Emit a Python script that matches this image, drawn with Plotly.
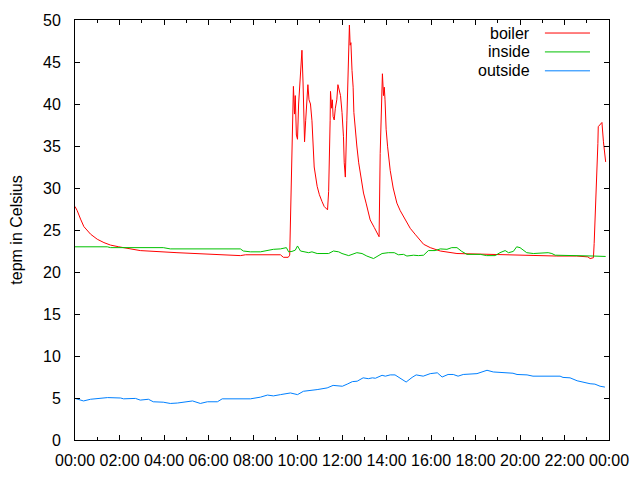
import plotly.graph_objects as go

DAY = "2013-01-01 "

boiler_time = ["00:00","00:06","00:15","00:24","00:42","01:00","01:18","01:36","01:58","02:30","02:56","04:35","06:13","07:26","07:40","09:14","09:22","09:35","09:39","09:42","09:45","09:49","09:52","09:54","09:57","10:00","10:03","10:08","10:12","10:15","10:17","10:19","10:22","10:26","10:28","10:31","10:35","10:39","10:42","10:45","10:53","10:59","11:06","11:12","11:21","11:24","11:28","11:29","11:32","11:34","11:36","11:39","11:42","11:46","11:49","11:52","11:56","12:00","12:04","12:06","12:09","12:13","12:16","12:18","12:20","12:22","12:24","12:27","12:30","12:32","12:36","12:40","12:45","12:52","12:58","13:05","13:16","13:27","13:40","13:43","13:46","13:49","13:52","13:54","13:56","13:59","14:03","14:10","14:18","14:28","14:37","14:46","15:04","15:17","15:31","15:40","15:58","16:25","17:10","18:30","19:41","21:39","22:33","23:03","23:09","23:18","23:20","23:24","23:27","23:30","23:31","23:36","23:41","23:45","23:47","23:51"]
boiler_temp = [27.8,27.3,26.3,25.4,24.5,23.9,23.5,23.2,23.0,22.75,22.55,22.3,22.1,21.95,22.05,22.05,21.75,21.75,22.0,29.4,34.4,42.1,38.8,41.0,36.3,35.8,40.0,44.5,46.4,42.5,37.0,35.5,38.0,40.5,42.3,40.5,40.0,38.0,35.0,32.5,30.2,29.2,28.4,27.8,27.4,29.6,38.0,41.5,39.5,40.5,38.5,38.1,39.5,40.5,42.3,41.8,41.0,39.0,36.1,33.0,31.3,38.0,44.0,46.8,49.4,47.0,47.3,44.0,42.0,39.0,36.5,35.0,33.0,31.0,29.4,28.2,26.2,25.3,24.2,34.1,40.5,43.6,41.0,42.0,40.5,37.0,34.9,32.1,30.0,28.2,27.3,26.6,25.2,24.5,23.8,23.3,22.9,22.5,22.2,22.1,22.0,21.9,21.9,21.8,21.6,21.7,23.4,27.4,31.3,35.3,37.3,37.6,37.8,35.5,34.3,33.1]

inside_time = ["00:00","01:27","01:36","03:58","04:17","07:26","07:34","07:53","08:20","08:39","08:55","09:14","09:30","09:36","09:45","09:54","10:00","10:08","10:21","10:30","10:39","10:53","11:24","11:37","11:51","12:00","12:18","12:40","12:54","13:07","13:25","13:34","13:48","14:05","14:21","14:32","14:46","14:55","15:13","15:26","15:40","15:53","16:11","16:25","16:43","16:56","17:10","17:23","17:37","18:13","18:30","18:53","19:06","19:20","19:29","19:42","19:51","20:00","20:18","20:36","21:16","21:26","21:35","23:18","23:51"]
inside_temp = [23.0,23.0,22.9,22.9,22.75,22.75,22.5,22.4,22.4,22.55,22.7,22.75,22.9,22.4,22.45,22.6,23.1,22.5,22.4,22.3,22.4,22.2,22.2,22.5,22.4,22.2,21.95,22.3,22.2,21.9,21.6,21.8,22.2,22.3,22.3,22.05,22.1,21.9,22.0,21.95,22.0,22.55,22.55,22.75,22.7,22.9,22.9,22.45,22.1,22.1,21.95,21.95,22.3,22.55,22.3,22.45,23.0,22.9,22.3,22.2,22.3,22.2,22.0,21.9,21.85]

outside_time = ["00:00","00:23","00:42","01:01","01:28","02:03","02:11","02:43","02:56","03:18","03:31","03:58","04:17","04:36","05:17","05:38","05:57","06:24","06:37","07:53","08:20","08:39","08:55","09:14","09:41","10:00","10:16","10:53","11:20","11:36","12:01","12:14","12:28","12:41","12:57","13:11","13:22","13:30","13:48","13:57","14:10","14:23","14:37","14:53","15:09","15:20","15:39","15:58","16:17","16:30","16:46","17:00","17:13","17:27","18:04","18:18","18:31","18:48","19:14","19:41","19:52","20:19","20:35","21:40","21:48","21:56","22:15","22:34","22:50","23:09","23:22","23:36","23:49"]
outside_temp = [4.95,4.65,4.85,4.95,5.05,5.0,4.9,4.95,4.75,4.85,4.55,4.5,4.35,4.4,4.65,4.35,4.55,4.55,4.9,4.9,5.1,5.35,5.25,5.4,5.6,5.4,5.8,6.0,6.2,6.5,6.4,6.65,6.95,7.0,7.4,7.3,7.4,7.35,7.7,7.6,7.75,7.75,7.4,6.9,7.45,7.75,7.6,7.9,8.0,7.5,7.8,7.8,7.6,7.8,7.9,8.1,8.3,8.1,8.0,7.95,7.8,7.75,7.6,7.55,7.6,7.45,7.4,7.05,6.85,6.7,6.65,6.4,6.3]

series_names = ["boiler", "inside", "outside"]
series_colors = ["#ff0000", "#00c000", "#0080ff"]
y_ticks = list(range(0, 51, 5))

FONT = "Liberation Sans"
FS = 16

fig = go.Figure()
for name, times, temps, color in zip(series_names,
                                     [boiler_time, inside_time, outside_time],
                                     [boiler_temp, inside_temp, outside_temp],
                                     series_colors):
    fig.add_trace(go.Scatter(x=[DAY + t for t in times], y=temps, mode="lines",
                             name=name, line=dict(color=color, width=1),
                             showlegend=False))

# gnuplot-style key: text right-aligned, sample line to its right
key_rows = [0.969, 0.924, 0.879]
for name, color, yy in zip(series_names, series_colors, key_rows):
    fig.add_annotation(x=0.8558, y=yy, xref="paper", yref="paper", text=name,
                       showarrow=False, xanchor="right", yanchor="middle",
                       font=dict(family=FONT, size=FS, color="black"))
    fig.add_shape(type="line", xref="paper", yref="paper", x0=0.880, x1=0.9644,
                  y0=yy, y1=yy, line=dict(color=color, width=1))

fig.update_layout(
    width=640, height=480,
    margin=dict(l=75, r=31, t=20, b=40),
    paper_bgcolor="white", plot_bgcolor="white",
    font=dict(family=FONT, size=FS, color="black"),
)
fig.update_xaxes(
    type="date", range=["2013-01-01 00:00", "2013-01-02 00:00"],
    dtick=2 * 3600 * 1000, tick0="2013-01-01 00:00", tickformat="%H:%M",
    ticks="inside", ticklen=5, tickcolor="black", showline=True, linecolor="black",
    linewidth=1, mirror="ticks", showgrid=False, zeroline=False,
    ticklabelstandoff=6, automargin=False,
    minor=dict(dtick=3600 * 1000, ticks="inside", ticklen=3, tickcolor="black", showgrid=False),
)
fig.update_yaxes(
    range=[0, 50], tickvals=y_ticks, ticks="inside", ticklen=5, tickcolor="black",
    showline=True, linecolor="black", linewidth=1, mirror="ticks",
    showgrid=False, zeroline=False, ticklabelstandoff=10, automargin=False,
    title=dict(text="tepm in Celsius", standoff=16, font=dict(family=FONT, size=FS)),
)

fig.write_html("out.html")
